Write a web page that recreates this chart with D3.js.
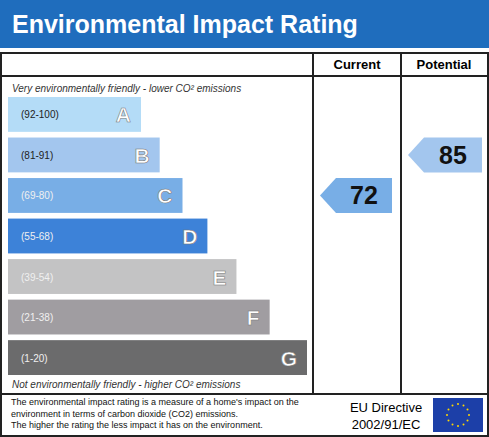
<!DOCTYPE html><html><head><meta charset="utf-8"><script src="https://cdn.jsdelivr.net/npm/d3@7"></script>
<style>body{margin:0;background:#fff}text{font-family:Arial,"Liberation Sans",sans-serif}</style></head><body><svg id="c" width="489" height="437"></svg>
<script>
const bands=["A","B","C","D","E","F","G"];
const ranges=["(92-100)","(81-91)","(69-80)","(55-68)","(39-54)","(21-38)","(1-20)"];
const bandMax=[100,91,80,68,54,38,20];
const colors=["#b4dcf7","#a3c6ee","#78aee6","#3d82d8","#c3c3c4","#a09da1","#6b6b6c"];
const currentVal=72, potentialVal=85;
const svg=d3.select("#c");
svg.append("rect").attr("x",0).attr("y",0).attr("width",489).attr("height",48).attr("fill","#1f6dbd");
svg.append("text").attr("x",12).attr("y",33).attr("fill","#fff").attr("font-size",25).attr("font-weight","bold").text("Environmental Impact Rating");
const g=svg.append("g").attr("stroke","#222").attr("stroke-width",2).attr("fill","none");
g.append("rect").attr("x",1).attr("y",53).attr("width",487).attr("height",383);
g.append("line").attr("x1",1).attr("x2",488).attr("y1",76).attr("y2",76);
g.append("line").attr("x1",1).attr("x2",488).attr("y1",394).attr("y2",394);
g.append("line").attr("x1",313).attr("x2",313).attr("y1",53).attr("y2",394);
g.append("line").attr("x1",401).attr("x2",401).attr("y1",53).attr("y2",394);
svg.append("text").attr("x",357).attr("y",69).attr("text-anchor","middle").attr("font-size",13).attr("font-weight","bold").text("Current");
svg.append("text").attr("x",444).attr("y",69).attr("text-anchor","middle").attr("font-size",13).attr("font-weight","bold").text("Potential");
const y=d3.scaleBand().domain(bands).range([97,375]).paddingInner(0.14);
const w=d3.scaleLinear().domain([100,20]).range([133,299]);
bands.forEach((b,i)=>{
 const yy=y(b);
 svg.append("rect").attr("x",8).attr("y",yy).attr("width",w(bandMax[i])).attr("height",y.bandwidth()).attr("fill",colors[i]);
 svg.append("text").attr("x",21).attr("y",yy+y.bandwidth()/2+4).attr("font-size",10).attr("fill",i<1?"#222":"#fff").text(ranges[i]).attr("fill",i==0?"#222":(i==1?"#222":"#f0f0f0"));
 svg.append("text").attr("x",8+w(bandMax[i])-10).attr("y",yy+y.bandwidth()/2+8).attr("text-anchor","end").attr("font-size",21).attr("font-weight","bold").attr("fill","#fff").attr("stroke","#777").attr("stroke-width",0.6).text(b);
});
svg.append("text").attr("x",12).attr("y",92).attr("font-size",10).attr("font-style","italic").attr("fill","#333").text("Very environmentally friendly - lower CO² emissions");
svg.append("text").attr("x",12).attr("y",388).attr("font-size",10).attr("font-style","italic").attr("fill","#333").text("Not environmentally friendly - higher CO² emissions");
const yv=d3.scaleLinear().domain([1,100]).range([372,98]);
function arrow(x0,x1,v,b){
 const yy=y(bands[bandMax.findIndex((m,i)=>v<=m&&v>(bandMax[i+1]||0))]);
 const h=y.bandwidth(),c=yy+h/2;
 svg.append("path").attr("d",`M${x0},${c}L${x0+16},${yy}L${x1},${yy}L${x1},${yy+h}L${x0+16},${yy+h}Z`).attr("fill",colors[b]);
 svg.append("text").attr("x",(x0+x1)/2+8).attr("y",c+9).attr("text-anchor","middle").attr("font-size",25).attr("font-weight","bold").attr("fill","#111").text(v);
}
arrow(320,392,currentVal,2);
arrow(408,482,potentialVal,1);
const ft=["The environmental impact rating is a measure of a home's impact on the","environment in terms of carbon dioxide (CO2) emissions.","The higher the rating the less impact it has on the environment."];
ft.forEach((t,i)=>svg.append("text").attr("x",11).attr("y",405+i*11.5).attr("font-size",9).attr("fill","#111").text(t));
svg.append("text").attr("x",386).attr("y",412).attr("text-anchor","middle").attr("font-size",13).text("EU Directive");
svg.append("text").attr("x",386).attr("y",429).attr("text-anchor","middle").attr("font-size",13).text("2002/91/EC");
svg.append("rect").attr("x",433).attr("y",398).attr("width",50).attr("height",34).attr("fill","#1c3fa8");
d3.range(12).forEach(k=>{const a=k*Math.PI/6;svg.append("circle").attr("cx",458+11*Math.cos(a)).attr("cy",415+11*Math.sin(a)).attr("r",1).attr("fill","#ffd700");});
</script></body></html>
